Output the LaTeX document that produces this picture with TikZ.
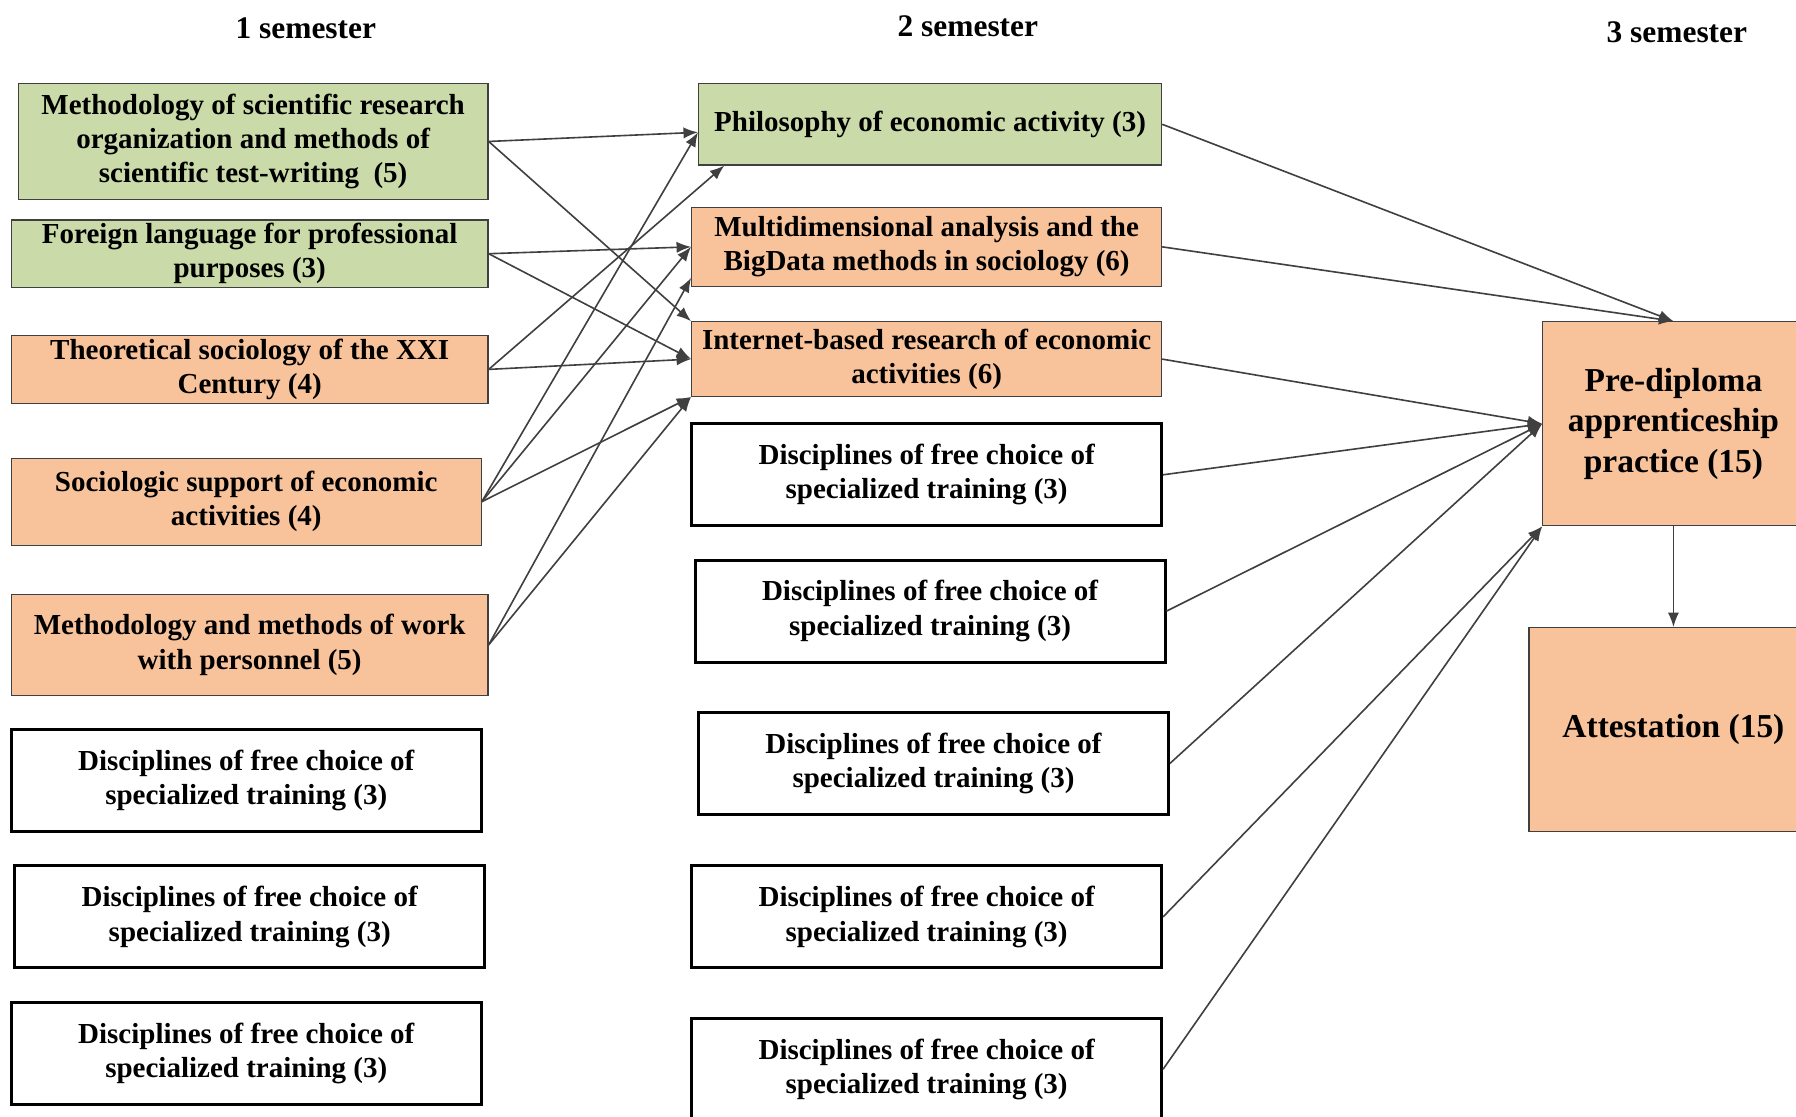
\documentclass[tikz,border=0pt]{standalone}
\usepackage{fontspec}
\setmainfont{Liberation Serif}
\usepackage{xcolor}
\definecolor{vert}{HTML}{CADAA8}
\definecolor{orang}{HTML}{F8C39B}
\definecolor{trait}{HTML}{404040}
\usetikzlibrary{positioning,arrows.meta}
\tikzset{
  sem/.style={font=\fontsize{7.8}{9}\selectfont\bfseries},
  greenb/.style={rectangle, draw=trait, fill=vert, line width=0.3pt, align=center, inner sep=0pt, font=\fontsize{7.2}{8.5}\selectfont\bfseries},
  orangeb/.style={rectangle, draw=trait, fill=orang, line width=0.3pt, align=center, inner sep=0pt, font=\fontsize{7.2}{8.5}\selectfont\bfseries},
  free/.style={rectangle, draw=black, fill=white, line width=0.75pt, align=center, inner sep=0pt, minimum width=4.1cm, minimum height=0.89cm, font=\fontsize{7.2}{8.5}\selectfont\bfseries},
  practice/.style={rectangle, draw=trait, fill=orang, line width=0.3pt, align=center, inner sep=0pt, minimum height=1.78cm, font=\fontsize{8.3}{10}\selectfont\bfseries},
  line/.style={draw=trait, line width=0.4pt, -{Latex[length=3.6pt,width=2.8pt]}},
}

\begin{document}
\begin{tikzpicture}[x=0.01cm,y=-0.01cm]
    \useasboundingbox (0,0) rectangle (1568,975);

    % semesters
    \node[sem] (s1) at (267,25) {1 semester};
    \node[sem] (s2) at (845,23) {2 semester};
    \node[sem] (s3) at (1464,28) {3 semester};

    % 1 semester
    \node[greenb, minimum width=4.1cm, minimum height=1.01cm] (meth) at (221,123.5) {Methodology of scientific research\\organization and methods of\\scientific test-writing\ \ (5)};
    \node[greenb, minimum width=4.16cm, minimum height=0.59cm] (lang) at (218,221.5) {Foreign language for professional\\purposes (3)};
    \node[orangeb, minimum width=4.16cm, minimum height=0.59cm] (theo) at (218,322.5) {Theoretical sociology of the XXI\\Century (4)};
    \node[orangeb, minimum width=4.1cm, minimum height=0.76cm] (supp) at (215,438) {Sociologic support of economic\\activities (4)};
    \node[orangeb, minimum width=4.16cm, minimum height=0.88cm] (pers) at (218,563) {Methodology and methods of work\\with personnel (5)};
    \node[free] (da) at (215,681.5) {Disciplines of free choice of\\specialized training (3)};
    \node[free] (db) at (218,800.5) {Disciplines of free choice of\\specialized training (3)};
    \node[free] (dc) at (215,919.5) {Disciplines of free choice of\\specialized training (3)};

    % 2 semester
    \node[greenb, minimum width=4.04cm, minimum height=0.71cm] (phil) at (812,108.5) {Philosophy of economic activity (3)};
    \node[orangeb, minimum width=4.1cm, minimum height=0.69cm] (multi) at (809,215.5) {Multidimensional analysis and the\\BigData methods in sociology (6)};
    \node[orangeb, minimum width=4.1cm, minimum height=0.65cm] (inet) at (809,313.5) {Internet-based research of economic\\activities (6)};
    \node[free] (ea) at (809,414.5) {Disciplines of free choice of\\specialized training (3)};
    \node[free] (eb) at (812,533.5) {Disciplines of free choice of\\specialized training (3)};
    \node[free] (ec) at (815,666.5) {Disciplines of free choice of\\specialized training (3)};
    \node[free] (ed) at (809,800.5) {Disciplines of free choice of\\specialized training (3)};
    \node[free] (ee) at (809,933.5) {Disciplines of free choice of\\specialized training (3)};

    % 3 semester
    \node[practice, minimum width=2.28cm] (prac) at (1461,370) {Pre-diploma\\apprenticeship\\practice (15)};
    \node[practice, minimum width=2.52cm] (att) at (1461,637) {Attestation (15)};

    \begin{scope}[every path/.style=line]
      \path (meth.east) -- ([yshift=-0.7mm]phil.west);
      \path (meth.east) -- (inet.north west);
      \path (lang.east) -- (multi.west);
      \path (lang.east) -- (inet.west);
      \path (theo.east) -- ([xshift=2.3mm]phil.south west);
      \path (theo.east) -- (inet.west);
      \path (supp.east) -- ([yshift=-0.7mm]phil.west);
      \path (supp.east) -- (multi.west);
      \path (supp.east) -- (inet.south west);
      \path (pers.east) -- ([yshift=0.8mm]multi.south west);
      \path (pers.east) -- (inet.south west);

      \path (phil.east) -- (prac.north);
      \path (multi.east) -- (prac.north);
      \path (inet.east) -- (prac.west);
      \path (ea.east) -- (prac.west);
      \path (eb.east) -- (prac.west);
      \path (ec.east) -- (prac.west);
      \path (ed.east) -- (prac.south west);
      \path (ee.east) -- (prac.south west);

      \path (prac.south) -- (att.north);
    \end{scope}

\end{tikzpicture}
\end{document}
